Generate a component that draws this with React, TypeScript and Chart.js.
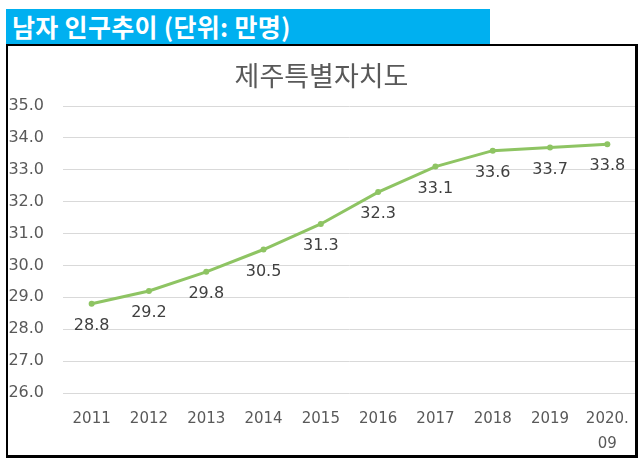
import { useEffect, useRef } from "react";
import { Chart, registerables } from "chart.js";

Chart.register(...registerables);

// 제주특별자치도 남자 인구 (만명)
const years: (string | string[])[] = [
  "2011",
  "2012",
  "2013",
  "2014",
  "2015",
  "2016",
  "2017",
  "2018",
  "2019",
  ["2020.", "09"],
];
const malePop = [28.8, 29.2, 29.8, 30.5, 31.3, 32.3, 33.1, 33.6, 33.7, 33.8];
const yMin = 26;
const yMax = 35;

const numFont = "'DejaVu Sans', 'Noto Sans CJK KR', sans-serif";
const krFont = "'Noto Sans CJK KR', 'Noto Sans', sans-serif";
const lineColor = "#8ec463";

// value labels under each point
const pointLabels = {
  id: "pointLabels",
  afterDatasetsDraw(chart: Chart) {
    const ctx = chart.ctx;
    const meta = chart.getDatasetMeta(0);
    ctx.save();
    ctx.font = `16px ${numFont}`;
    ctx.fillStyle = "#404040";
    ctx.textAlign = "center";
    ctx.textBaseline = "middle";
    meta.data.forEach((pt, i) => {
      ctx.fillText(malePop[i].toFixed(1), pt.x, pt.y + 22);
    });
    ctx.restore();
  },
};

function PopChart() {
  const ref = useRef<HTMLCanvasElement | null>(null);

  useEffect(() => {
    if (!ref.current) return;
    const chart = new Chart(ref.current, {
      type: "line",
      data: {
        labels: years,
        datasets: [
          {
            data: malePop,
            borderColor: lineColor,
            backgroundColor: lineColor,
            borderWidth: 3,
            pointRadius: 3,
            pointBorderWidth: 0,
            pointBackgroundColor: lineColor,
            tension: 0,
          },
        ],
      },
      options: {
        responsive: false,
        maintainAspectRatio: false,
        animation: false,
        layout: { padding: { top: 60, left: 0, right: 0, bottom: 0 } },
        plugins: {
          legend: { display: false },
          tooltip: { enabled: false },
        },
        scales: {
          x: {
            offset: true,
            grid: { display: false, drawTicks: false },
            border: { display: false },
            ticks: {
              color: "#595959",
              font: { family: numFont, size: 15, lineHeight: 1.7 },
              padding: 13,
              maxRotation: 0,
              autoSkip: false,
            },
            afterFit(scale) {
              scale.height = 62;
            },
          },
          y: {
            min: yMin,
            max: yMax,
            grid: { color: "#d9d9d9", drawTicks: false },
            border: { display: false },
            ticks: {
              stepSize: 1,
              color: "#595959",
              font: { family: numFont, size: 16 },
              padding: 19,
              callback: (v) => Number(v).toFixed(1),
            },
            afterFit(scale) {
              scale.width = 55;
            },
          },
        },
      },
      plugins: [pointLabels],
    });

    // widen the canvas (clipped by the frame) so the plot reaches the right border
    const targetRight = 628;
    for (let i = 0; i < 4; i++) {
      const gap = targetRight - chart.chartArea.right;
      if (Math.abs(gap) < 0.5) break;
      chart.resize(Math.round(chart.width + gap), 409);
    }

    return () => chart.destroy();
  }, []);

  return <canvas ref={ref} width={627} height={409} style={{ display: "block" }} />;
}

export default function App() {
  return (
    <div>
      <div
        style={{
          position: "absolute",
          left: 6,
          top: 9,
          width: 484,
          height: 35,
          background: "#00b0f0",
          color: "#fff",
          fontFamily: krFont,
          fontWeight: "bold",
          fontSize: 25,
          letterSpacing: 0.3,
          lineHeight: "35px",
          paddingLeft: 6,
          boxSizing: "border-box",
          whiteSpace: "nowrap",
        }}
      >
        남자 인구추이 (단위: 만명)
      </div>
      <div
        style={{
          position: "absolute",
          left: 6,
          top: 44,
          width: 632,
          height: 414,
          boxSizing: "border-box",
          borderStyle: "solid",
          borderColor: "#000",
          borderWidth: "2px 3px 3px 2px",
          background: "#fff",
          overflow: "hidden",
        }}
      >
        <PopChart />
        <div
          style={{
            position: "absolute",
            left: 0,
            right: 0,
            top: 13,
            height: 32,
            lineHeight: "32px",
            textAlign: "center",
            fontFamily: krFont,
            fontSize: 27,
            color: "#595959",
          }}
        >
          제주특별자치도
        </div>
      </div>
    </div>
  );
}
